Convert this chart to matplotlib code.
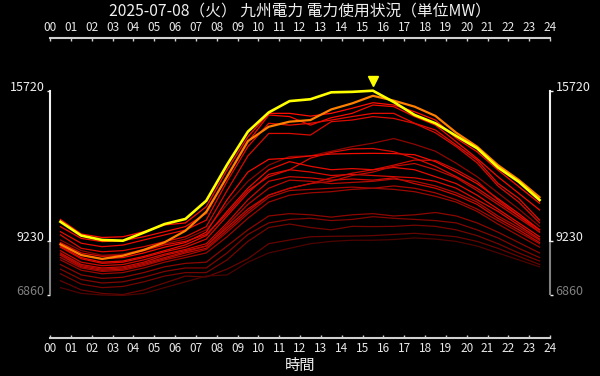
import numpy as np
import matplotlib
matplotlib.use("Agg")
import matplotlib.pyplot as plt
import matplotlib.transforms as mtransforms

plt.rcParams['font.family'] = ['Noto Sans CJK JP', 'DejaVu Sans']

# Hourly demand (MW), points at the half hour
hours = [h + 0.5 for h in range(24)]
xtick_labels = ["%02d" % h for h in range(25)]

today = [10050, 9450, 9260, 9230, 9580, 9950, 10170, 10960, 12520, 13950, 14780, 15270,
         15350, 15650, 15670, 15720, 15230, 14670, 14310, 13760, 13230, 12400, 11780, 10990]
yesterday = [9070, 8610, 8440, 8580, 8830, 9160, 9660, 10480, 12000, 13540, 14160, 14380,
             14450, 14910, 15170, 15500, 15290, 15030, 14630, 13900, 13300, 12500, 11860, 11110]

# other days of the period
past_days = [
    [10150, 9520, 9370, 9400, 9620, 9910, 10000, 10700, 12300, 13730, 14740, 14740,
     14620, 14740, 14960, 15200, 15100, 14810, 14450, 13660, 13080, 12290, 11570, 10850],
    [9840, 9330, 9190, 9230, 9400, 9620, 9840, 10410, 12000, 13500, 14670, 14600,
     14230, 14550, 14740, 15100, 15030, 14600, 14230, 13510, 12790, 12000, 11280, 10560],
    [9620, 9120, 8970, 9040, 9260, 9480, 9690, 10120, 11800, 13300, 14310, 14230,
     14310, 14450, 14600, 14740, 14740, 14310, 14020, 13370, 12720, 11710, 11060, 10120],
    [9480, 8900, 8750, 8800, 8970, 9190, 9400, 9840, 11400, 12900, 13870, 13870,
     13800, 14380, 14450, 14600, 14520, 14300, 13900, 13300, 12600, 11600, 10900, 10000],
    [9260, 8800, 8600, 8650, 8850, 9100, 9300, 9700, 10800, 11800, 12500, 12870,
     12900, 13100, 13300, 13450, 13650, 13400, 13100, 12580, 12000, 11300, 10600, 9850],
    [9100, 8600, 8450, 8500, 8700, 8950, 9150, 9600, 11000, 12200, 12750, 12800,
     12900, 12980, 13000, 13010, 13000, 12950, 12650, 12200, 11700, 11050, 10400, 9700],
    [8700, 8200, 8050, 8100, 8300, 8600, 8800, 9000, 9800, 10600, 11200, 11500,
     11700, 11950, 12150, 12300, 12500, 12720, 12700, 12300, 11800, 11000, 10300, 9600],
    [9000, 8500, 8300, 8350, 8550, 8800, 9050, 9450, 10500, 11500, 12300, 12650,
     12450, 12300, 12350, 12300, 12400, 12300, 12000, 11700, 11200, 10600, 10000, 9400],
    [8950, 8450, 8250, 8300, 8500, 8750, 8950, 9300, 10300, 11300, 12100, 12300,
     12200, 12050, 12100, 12050, 12000, 11950, 11800, 11500, 11000, 10500, 9900, 9300],
    [8800, 8300, 8150, 8200, 8400, 8650, 8850, 9100, 10000, 11000, 11800, 12000,
     11950, 11850, 11900, 11850, 11950, 11700, 11500, 11200, 10800, 10200, 9700, 9150],
    [8600, 8100, 7950, 8000, 8200, 8450, 8700, 8900, 9700, 10500, 11200, 11500,
     11700, 11800, 12050, 12200, 12450, 12570, 12300, 11950, 11400, 10800, 10200, 9600],
    [8650, 8150, 8000, 8050, 8250, 8500, 8750, 9000, 9900, 10800, 11500, 11850,
     11800, 11700, 11750, 11800, 11900, 11800, 11600, 11300, 10900, 10300, 9800, 9250],
    [8500, 8050, 7900, 7950, 8150, 8400, 8600, 8850, 9600, 10400, 11100, 11400,
     11450, 11500, 11550, 11500, 11600, 11500, 11300, 11000, 10600, 10100, 9600, 9100],
    [8400, 7950, 7800, 7850, 8050, 8300, 8500, 8700, 9400, 10200, 10900, 11200,
     11300, 11350, 11450, 11500, 11450, 11350, 11150, 10900, 10500, 9950, 9450, 8950],
    [9150, 8700, 8550, 8600, 8800, 9050, 9200, 9500, 10400, 11400, 12000, 12300,
     12800, 13050, 13200, 13220, 13080, 12800, 12450, 12000, 11500, 10900, 10300, 9700],
    [8200, 7750, 7600, 7650, 7850, 8100, 8250, 8300, 9000, 9700, 10300, 10400,
     10350, 10250, 10350, 10400, 10300, 10350, 10450, 10300, 10000, 9600, 9150, 8700],
    [8000, 7550, 7400, 7450, 7650, 7900, 8050, 8050, 8700, 9500, 10000, 10150,
     10200, 10100, 10150, 10270, 10200, 10150, 10100, 10000, 9700, 9350, 8900, 8500],
    [7800, 7350, 7200, 7250, 7450, 7700, 7850, 7850, 8400, 9200, 9800, 9950,
     9800, 9700, 9850, 9840, 9850, 9900, 9850, 9700, 9450, 9100, 8700, 8350],
    [7500, 7100, 6950, 6900, 7100, 7400, 7700, 7660, 8000, 8450, 9100, 9260,
     9400, 9420, 9430, 9450, 9500, 9550, 9480, 9400, 9200, 8900, 8550, 8200],
    [7200, 6950, 6880, 6860, 6950, 7200, 7450, 7700, 7750, 8300, 8700, 8900,
     9100, 9200, 9250, 9250, 9280, 9350, 9300, 9200, 9000, 8700, 8400, 8100],
]
# brightness of each past-day line (1 = pure red)
shade = [1.0, 0.95, 0.9, 0.85, 0.55, 0.95, 0.8, 0.9, 0.85, 0.8, 0.75, 0.7,
         0.65, 0.6, 0.85, 0.55, 0.5, 0.45, 0.4, 0.3]

today_max = max(today)
today_min = min(today)
all_min = min(min(d) for d in past_days + [today, yesterday])

fig = plt.figure(figsize=(6, 3.76), dpi=100, facecolor='black')
ax = fig.add_axes([50 / 600, 1 - 338 / 376, 500 / 600, 300 / 376])
ax.set_facecolor('black')

for d, s in zip(past_days, shade):
    ax.plot(hours, d, color=(s, 0.05 * s, 0), linewidth=0.9)
ax.plot(hours, yesterday, color='#ff8000', linewidth=1.6)
ax.plot(hours, today, color='#ffff00', linewidth=1.9)

# peak marker
peak_x = hours[int(np.argmax(today))]
trans = mtransforms.offset_copy(ax.transData, fig=fig, y=10, units='dots')
ax.plot([peak_x], [today_max], marker='v', color='#ffff00', markersize=7,
        transform=trans, clip_on=False, linestyle='none')

ax.set_xlim(0, 24)
ax.set_ylim(5020, 18000)

# x axes top and bottom
ax.set_xticks(range(25))
ax.set_xticklabels(xtick_labels)
ax.tick_params(axis='x', top=True, labeltop=True, bottom=True, labelbottom=True,
               direction='in', length=2.5, width=1, color='#d0d0d0',
               labelcolor='#e8e8e8', labelsize=8.5, pad=3)
for side in ['top', 'bottom']:
    ax.spines[side].set_color('#d0d0d0')
    ax.spines[side].set_linewidth(1.5)

# y axes left and right
ax.set_yticks([all_min, today_min, today_max])
ax.set_yticklabels([str(all_min), str(today_min), str(today_max)])
ax.tick_params(axis='y', left=True, right=True, labelleft=True, labelright=True,
               direction='out', length=2.5, width=1, color='#f0f0f0',
               labelcolor='#f0f0f0', labelsize=9, pad=1.5)
for side in ['left', 'right']:
    ax.spines[side].set_color('#f0f0f0')
    ax.spines[side].set_linewidth(1.5)
    ax.spines[side].set_bounds(today_min, today_max)
for xs in [0, 24]:
    ax.plot([xs, xs], [all_min, today_min], color='#808080', linewidth=1.5,
            clip_on=False, solid_capstyle='butt')
for t in ax.yaxis.get_major_ticks():
    t.label1.set_va('baseline')
    t.label2.set_va('baseline')
    if t.get_loc() == all_min:
        for obj in [t.label1, t.label2, t.tick1line, t.tick2line]:
            obj.set_color('#808080')

fig.text(0.5, 1 - 12 / 376, "2025-07-08（火） 九州電力 電力使用状況（単位MW）",
         ha='center', va='center', color='#f0f0f0', fontsize=11.3)
ax.set_xlabel("時間", color='#f0f0f0', fontsize=11, labelpad=1)

fig.savefig("out.png", dpi=100, facecolor='black')
